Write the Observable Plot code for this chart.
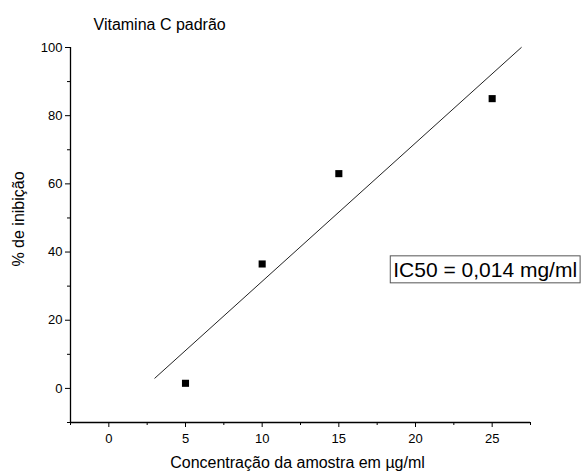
<!DOCTYPE html>
<html>
<head>
<meta charset="utf-8">
<script src="https://cdn.jsdelivr.net/npm/d3@7"></script>
<script src="https://cdn.jsdelivr.net/npm/@observablehq/plot@0.6"></script>
<style>
  html, body { margin: 0; padding: 0; background: #fff; }
  #chart svg { display: block; font-family: "Liberation Sans", Arial, sans-serif; }
</style>
</head>
<body>
<div id="chart"></div>
<script>
// Data
const concentrations = [5, 10, 15, 25];          // µg/ml
const inhibition = [1.5, 36.5, 63, 85];          // % de inibição
// Fitted line as drawn (end points)
const fitX = [3, 26.9];
const fitY = [3, 100];
// Tick values
const xMajorTicks = [0, 5, 10, 15, 20, 25];
const xMinorTicks = [-2.5, 2.5, 7.5, 12.5, 17.5, 22.5, 27.5];
const yMajorTicks = [0, 20, 40, 60, 80, 100];
const yMinorTicks = [-10, 10, 30, 50, 70, 90];
// Texts
const titleText = "Vitamina C padrão";
const xLabel = "Concentração da amostra em µg/ml";
const yLabel = "% de inibição";
const annotationText = ["IC50 = 0,014 mg/ml"];
const annotationX = [18.55];
const annotationY = [34.7];

const points = concentrations.map((c, i) => ({x: c, y: inhibition[i]}));
const fit = fitX.map((x, i) => ({x, y: fitY[i]}));

const chart = Plot.plot({
  width: 585,
  height: 472,
  marginLeft: 70,
  marginRight: 55,
  marginTop: 47,
  marginBottom: 50,
  style: {fontFamily: "Liberation Sans, Arial, sans-serif", background: "#fff", color: "#000"},
  x: {domain: [-2.5, 27.5], label: null},
  y: {domain: [-10, 100], label: null},
  marks: [
    Plot.ruleX([-2.5], {stroke: "#000", strokeWidth: 1.3}),
    Plot.ruleY([-10], {stroke: "#000", strokeWidth: 1.3}),
    Plot.axisY({ticks: yMajorTicks, tickSize: 5, tickPadding: 3, fontSize: 13, tickFormat: d => String(d)}),
    Plot.axisY({ticks: yMinorTicks, tickSize: 3, text: null}),
    Plot.axisX({ticks: xMajorTicks, tickSize: 5, tickPadding: 6, fontSize: 13, tickFormat: d => String(d)}),
    Plot.axisX({ticks: xMinorTicks, tickSize: 3, text: null}),
    Plot.line(fit, {x: "x", y: "y", stroke: "#222", strokeWidth: 1}),
    Plot.dot(points, {x: "x", y: "y", symbol: "square", r: 4, fill: "#000", stroke: "none"}),
    Plot.text([titleText], {frameAnchor: "top-left", dx: 23, dy: -29, lineAnchor: "top", fontSize: 16, fill: "#000"}),
    Plot.text([xLabel], {frameAnchor: "bottom", dy: 45, lineAnchor: "bottom", fontSize: 16, fill: "#000", dx: -3}),
    Plot.text([yLabel], {frameAnchor: "left", dx: -52, rotate: -90, textAnchor: "middle", fontSize: 16, fill: "#000", dy: -16}),
    Plot.text(annotationText, {x: annotationX, y: annotationY, textAnchor: "start", fontSize: 21, fill: "#000", className: "ic50"})
  ]
});

document.getElementById("chart").appendChild(chart);

// Draw a box around the IC50 annotation
const svg = d3.select(chart);
svg.selectAll(".ic50 text").each(function() {
  const bb = this.getBBox();
  const padX = 3, padY = 2;
  d3.select(this.parentNode).insert("rect", "text")
    .attr("transform", this.getAttribute("transform"))
    .attr("x", bb.x - padX)
    .attr("y", bb.y - padY)
    .attr("width", bb.width + 2 * padX)
    .attr("height", bb.height + 2 * padY)
    .attr("fill", "#fff")
    .attr("stroke", "#555")
    .attr("stroke-width", 1);
});
</script>
</body>
</html>
